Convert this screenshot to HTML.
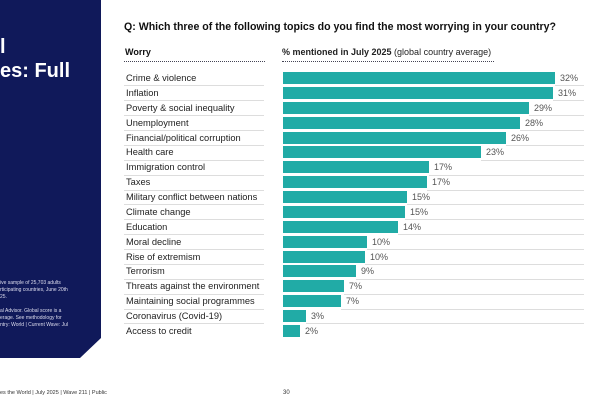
<!DOCTYPE html>
<html><head><meta charset="utf-8"><style>
body{margin:0;width:600px;height:400px;background:#fff;position:relative;overflow:hidden;font-family:"Liberation Sans",sans-serif;}
.a{position:absolute;white-space:nowrap;}
.lbl{position:absolute;left:126px;font-size:9.3px;color:#222;}
.sep{position:absolute;height:1px;background:#ddd;}
.bar{position:absolute;left:283px;height:12px;background:#21aba6;}
.val{position:absolute;font-size:9px;color:#555;}
</style></head><body>
<svg class="a" style="left:0;top:0" width="102" height="360"><polygon points="0,0 101,0 101,338 80,358 0,358" fill="#10195a"/></svg>
<div class="a" style="left:0;top:36px;color:#fff;font-weight:bold;font-size:20px">l</div>
<div class="a" style="left:0;top:60px;color:#fff;font-weight:bold;font-size:20px">es: Full</div>
<div class="a" style="left:0;top:280px;color:#dde;font-size:5px;line-height:7px">ive sample of 25,703 adults<br>rticipating countries, June 20th<br>25.<br><br>al Advisor. Global score is a<br>erage. See methodology for<br>ntry: World | Current Wave: Jul</div>
<div class="a" style="left:0;top:390px;color:#333;font-size:5.5px">es the World | July 2025 | Wave 211 | Public</div>
<div class="a" style="left:283px;top:390px;color:#333;font-size:6px">30</div>
<div class="a" style="left:124px;top:21px;font-size:10.6px;font-weight:bold;color:#111">Q: Which three of the following topics do you find the most worrying in your country?</div>
<div class="a" style="left:125px;top:47px;font-size:9px;font-weight:bold;color:#111">Worry</div>
<div class="a" style="left:124px;top:61px;width:141px;border-top:1px dotted #445"></div>
<div class="a" style="left:282px;top:47px;font-size:9px;color:#222"><b>% mentioned in July 2025</b> (global country average)</div>
<div class="a" style="left:282px;top:61px;width:212px;border-top:1px dotted #445"></div>
<div id="rows"></div>
<script>
var d=[["Crime & violence",32,555],["Inflation",31,553],["Poverty & social inequality",29,529],["Unemployment",28,520],["Financial/political corruption",26,506],["Health care",23,481],["Immigration control",17,429],["Taxes",17,427],["Military conflict between nations",15,407],["Climate change",15,405],["Education",14,398],["Moral decline",10,367],["Rise of extremism",10,365],["Terrorism",9,356],["Threats against the environment",7,344],["Maintaining social programmes",7,341],["Coronavirus (Covid-19)",3,306],["Access to credit",2,300]];
var h="";
d.forEach(function(r,i){var y=72+i*14.88;
h+='<div class="bar" style="top:'+y+'px;width:'+(r[2]-283)+'px"></div>';
h+='<div class="val" style="top:'+(y+1)+'px;left:'+(r[2]+5)+'px">'+r[1]+'%</div>';
h+='<div class="lbl" style="top:'+(y+1)+'px">'+r[0].replace(/&/g,'&amp;')+'</div>';
if(i<17){h+='<div class="sep" style="top:'+(y+13.4)+'px;left:124px;width:140px"></div><div class="sep" style="top:'+(y+13.4)+'px;left:'+r[2]+'px;width:'+(584-r[2])+'px"></div>';}
});
document.getElementById("rows").innerHTML=h;
</script>
</body></html>
